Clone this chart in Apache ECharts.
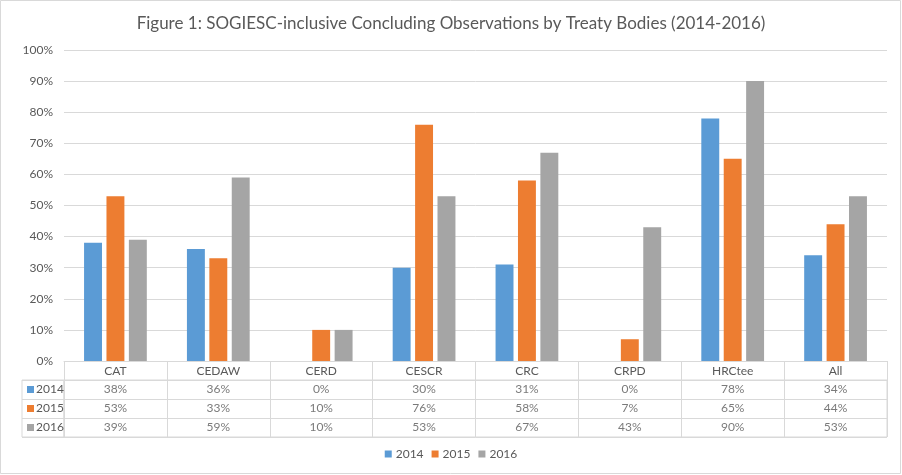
<!DOCTYPE html>
<html>
<head>
<meta charset="utf-8">
<script src="https://cdn.jsdelivr.net/npm/echarts@6/dist/echarts.min.js"></script>
<style>
html,body{margin:0;padding:0;background:#fff;}
#chart{width:902px;height:475px;}
</style>
</head>
<body>
<div id="chart"></div>
<script>
const titleText = 'Figure 1: SOGIESC-inclusive Concluding Observations by Treaty Bodies (2014-2016)';
const categories = ['CAT', 'CEDAW', 'CERD', 'CESCR', 'CRC', 'CRPD', 'HRCtee', 'All'];
const years = ['2014', '2015', '2016'];
const values2014 = [38, 36, 0, 30, 31, 0, 78, 34];
const values2015 = [53, 33, 10, 76, 58, 7, 65, 44];
const values2016 = [39, 59, 10, 53, 67, 43, 90, 53];
const colors = ['#5b9bd5', '#ed7d31', '#a5a5a5'];
const yTicks = [0, 10, 20, 30, 40, 50, 60, 70, 80, 90, 100];

const seriesValues = [values2014, values2015, values2016];
const FONT = 'Lato, "Liberation Sans", sans-serif';
const TXT = '#595959';
const LINE = '#d9d9d9';

const barSeries = years.map((y, i) => ({
  name: y,
  type: 'bar',
  xAxisIndex: 0,
  yAxisIndex: 0,
  data: seriesValues[i],
  itemStyle: { color: colors[i] },
  barGap: '25%',
  barCategoryGap: '39%',
  silent: true
}));

const tableSeries = years.map((y, i) => ({
  name: 'table-' + y,
  type: 'scatter',
  xAxisIndex: 1,
  yAxisIndex: 1,
  symbolSize: 0.1,
  itemStyle: { color: 'transparent' },
  silent: true,
  data: categories.map((c, j) => [c, y, seriesValues[i][j]]),
  label: {
    show: true,
    position: 'inside',
    color: TXT,
    fontFamily: FONT,
    fontSize: 12,
    formatter: p => p.value[2] + '%'
  }
}));

const rich = {};
years.forEach((y, i) => {
  rich['s' + i] = { backgroundColor: colors[i], width: 7, height: 7 };
  rich['t' + i] = { color: TXT, fontFamily: FONT, fontSize: 12, padding: [0, 0, 0, 2] };
});

const option = {
  animation: false,
  backgroundColor: '#ffffff',
  textStyle: { fontFamily: FONT },
  title: {
    text: titleText,
    left: 'center',
    top: 10,
    textStyle: { fontFamily: FONT, fontSize: 17, fontWeight: 'normal', color: TXT }
  },
  legend: {
    data: years,
    bottom: 10,
    left: 'center',
    icon: 'rect',
    itemWidth: 7,
    itemHeight: 7,
    itemGap: 8,
    textStyle: { color: TXT, fontFamily: FONT, fontSize: 12, padding: [0, 0, 0, -1] }
  },
  graphic: [{
    type: 'rect',
    shape: { x: 0.5, y: 0.5, width: 900, height: 473 },
    style: { fill: null, stroke: LINE, lineWidth: 1 },
    silent: true
  }],
  grid: [
    { left: 64, width: 823, top: 50, height: 311 },
    { left: 64, width: 823, top: 380, height: 57, show: true, borderColor: LINE, borderWidth: 1 },
    { left: 22, width: 42, top: 380, height: 57, show: true, borderColor: LINE, borderWidth: 1 }
  ],
  xAxis: [
    {
      gridIndex: 0,
      type: 'category',
      data: categories,
      axisLine: { lineStyle: { color: LINE } },
      axisTick: { show: true, length: 19, lineStyle: { color: LINE } },
      axisLabel: { color: TXT, fontFamily: FONT, fontSize: 12, margin: 4 }
    },
    {
      gridIndex: 1,
      type: 'category',
      data: categories,
      axisLine: { show: false },
      axisTick: { show: false },
      axisLabel: { show: false },
      splitLine: { show: true, lineStyle: { color: LINE } }
    },
    {
      gridIndex: 2,
      type: 'value',
      show: false
    }
  ],
  yAxis: [
    {
      gridIndex: 0,
      type: 'value',
      min: 0,
      max: 100,
      interval: 10,
      axisLine: { show: false },
      axisTick: { show: false },
      axisLabel: { color: TXT, fontFamily: FONT, fontSize: 12, margin: 11, formatter: v => yTicks.includes(v) ? v + '%' : '' },
      splitLine: { lineStyle: { color: LINE } }
    },
    {
      gridIndex: 1,
      type: 'category',
      data: years,
      inverse: true,
      axisLine: { show: false },
      axisTick: { show: false },
      axisLabel: { show: false },
      splitLine: { show: true, lineStyle: { color: LINE } }
    },
    {
      gridIndex: 2,
      type: 'category',
      data: years,
      inverse: true,
      axisLine: { show: false },
      axisTick: { show: false },
      splitLine: { show: true, lineStyle: { color: LINE } },
      axisLabel: {
        inside: true,
        margin: 5,
        align: 'left',
        formatter: (v, idx) => '{s' + idx + '|}{t' + idx + '|' + v + '}',
        rich: rich
      }
    }
  ],
  series: barSeries.concat(tableSeries)
};

const chart = echarts.init(document.getElementById('chart'), null, { renderer: 'canvas' });
chart.setOption(option);
</script>
</body>
</html>
